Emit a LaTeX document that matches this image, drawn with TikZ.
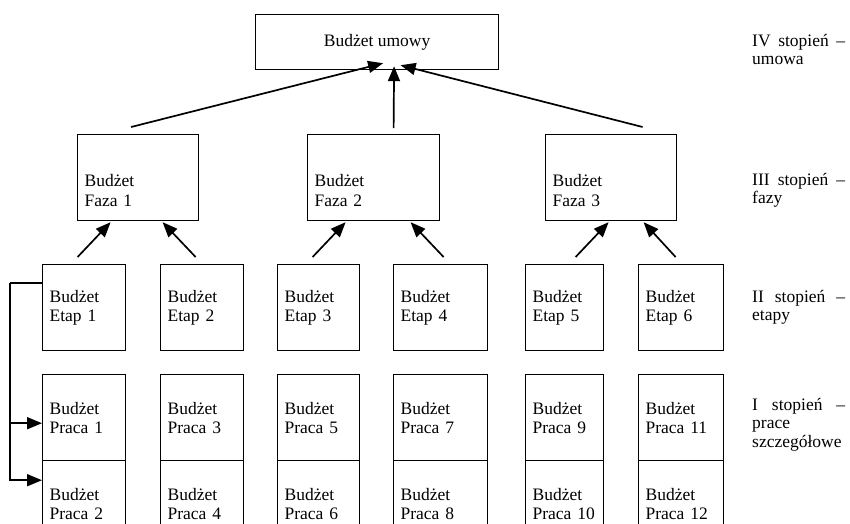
\documentclass[tikz,border=0pt]{standalone}
\usepackage{fontspec}
\setmainfont{Liberation Serif}
\usetikzlibrary{arrows.meta,positioning}

\begin{document}
\hyphenpenalty=10000
\begin{tikzpicture}[
  x=1pt, y=-1pt,
  box/.style={
    draw,
    line width=1.2pt,
    anchor=north west,
    align=left,
    inner xsep=7pt,
    inner ysep=0pt,
    minimum height=86pt,
    font=\fontsize{17.5}{19.5}\selectfont
  },
  fazabox/.style={box,execute at begin node=\rule{0pt}{38pt}},
  level/.style={
    anchor=north west,
    inner sep=0pt,
    text width=93pt,
    align=left,
    font=\fontsize{17.5}{18.5}\selectfont
  },
  flow/.style={-{Triangle[length=15pt,width=12pt]},line width=1.7pt},
  rail/.style={line width=1.3pt}
]
\useasboundingbox (0,0) rectangle (850,523);
\clip (0,0) rectangle (850,523);

% IV stopien
\node[box,minimum width=243pt,minimum height=55pt,align=center] (umowa) at (255,14)
  {Budżet umowy};

% III stopien
\node[fazabox,text width=107pt] (faza1) at (77,134) {Budżet\\Faza 1};
\node[fazabox,text width=118pt] (faza2) at (307,134) {Budżet\\Faza 2};
\node[fazabox,text width=117pt] (faza3) at (545,134) {Budżet\\Faza 3};

% II stopien
\node[box,text width=69pt] (etap1) at (42,264) {Budżet\\Etap 1};
\node[box,text width=69pt] (etap2) at (160,264) {Budżet\\Etap 2};
\node[box,text width=68pt] (etap3) at (277,264) {Budżet\\Etap 3};
\node[box,text width=80pt] (etap4) at (393,264) {Budżet\\Etap 4};
\node[box,text width=64pt] (etap5) at (525,264) {Budżet\\Etap 5};
\node[box,text width=71pt] (etap6) at (638,264) {Budżet\\Etap 6};

% I stopien
\node[box,text width=69pt,below=23pt of etap1.south west,anchor=north west] (praca1) {Budżet\\Praca 1};
\node[box,text width=69pt,below=-1.2pt of praca1.south west,anchor=north west] (praca2) {Budżet\\Praca 2};
\node[box,text width=69pt,below=23pt of etap2.south west,anchor=north west] (praca3) {Budżet\\Praca 3};
\node[box,text width=69pt,below=-1.2pt of praca3.south west,anchor=north west] (praca4) {Budżet\\Praca 4};
\node[box,text width=68pt,below=23pt of etap3.south west,anchor=north west] (praca5) {Budżet\\Praca 5};
\node[box,text width=68pt,below=-1.2pt of praca5.south west,anchor=north west] (praca6) {Budżet\\Praca 6};
\node[box,text width=80pt,below=23pt of etap4.south west,anchor=north west] (praca7) {Budżet\\Praca 7};
\node[box,text width=80pt,below=-1.2pt of praca7.south west,anchor=north west] (praca8) {Budżet\\Praca 8};
\node[box,text width=64pt,below=23pt of etap5.south west,anchor=north west] (praca9) {Budżet\\Praca 9};
\node[box,text width=64pt,below=-1.2pt of praca9.south west,anchor=north west] (praca10) {Budżet\\Praca 10};
\node[box,text width=71pt,below=23pt of etap6.south west,anchor=north west] (praca11) {Budżet\\Praca 11};
\node[box,text width=71pt,below=-1.2pt of praca11.south west,anchor=north west] (praca12) {Budżet\\Praca 12};

% opisy poziomow
\node[level] (st4) at (752,34) {IV\hfill stopień\hfill –\\umowa};
\node[level] (st3) at (752,173) {III\hfill stopień\hfill –\\fazy};
\node[level] (st2) at (752,290) {II\hfill stopień\hfill –\\etapy};
\node[level] (st1) at (752,398) {I\hfill stopień\hfill –\\prace\\szczegółowe};

% fazy -> umowa
\draw[flow] ([xshift=-7pt,yshift=7pt]faza1.north) -- ([xshift=6pt,yshift=7pt]umowa.south);
\draw[flow] ([xshift=20pt,yshift=6pt]faza2.north) -- ([xshift=17pt,yshift=4pt]umowa.south);
\draw[flow] ([xshift=31.5pt,yshift=7pt]faza3.north) -- ([xshift=23.5pt,yshift=5pt]umowa.south);

% etapy -> fazy
\draw[flow] ([xshift=-6.5pt,yshift=7pt]etap1.north) -- ([xshift=-27.5pt,yshift=-1pt]faza1.south);
\draw[flow] ([xshift=-6.5pt,yshift=7pt]etap2.north) -- ([xshift=24.5pt,yshift=-1pt]faza1.south);
\draw[flow] ([xshift=-6pt,yshift=7pt]etap3.north) -- ([xshift=-28pt,yshift=-1pt]faza2.south);
\draw[flow] ([xshift=3pt,yshift=7pt]etap4.north) -- ([xshift=37pt,yshift=-1pt]faza2.south);
\draw[flow] ([xshift=11pt,yshift=7pt]etap5.north) -- ([xshift=-2.5pt,yshift=-1pt]faza3.south);
\draw[flow] ([xshift=-5.5pt,yshift=7pt]etap6.north) -- ([xshift=32.5pt,yshift=-1pt]faza3.south);

% etap 1 -> prace
\coordinate (bus) at (10,283);
\draw[rail] ([yshift=-19pt]etap1.north west) -- (bus);
\draw[flow] (bus) |- ([yshift=-49pt]praca1.north west);
\draw[flow] (bus) |- ([yshift=-20pt]praca2.north west);
\end{tikzpicture}
\end{document}
